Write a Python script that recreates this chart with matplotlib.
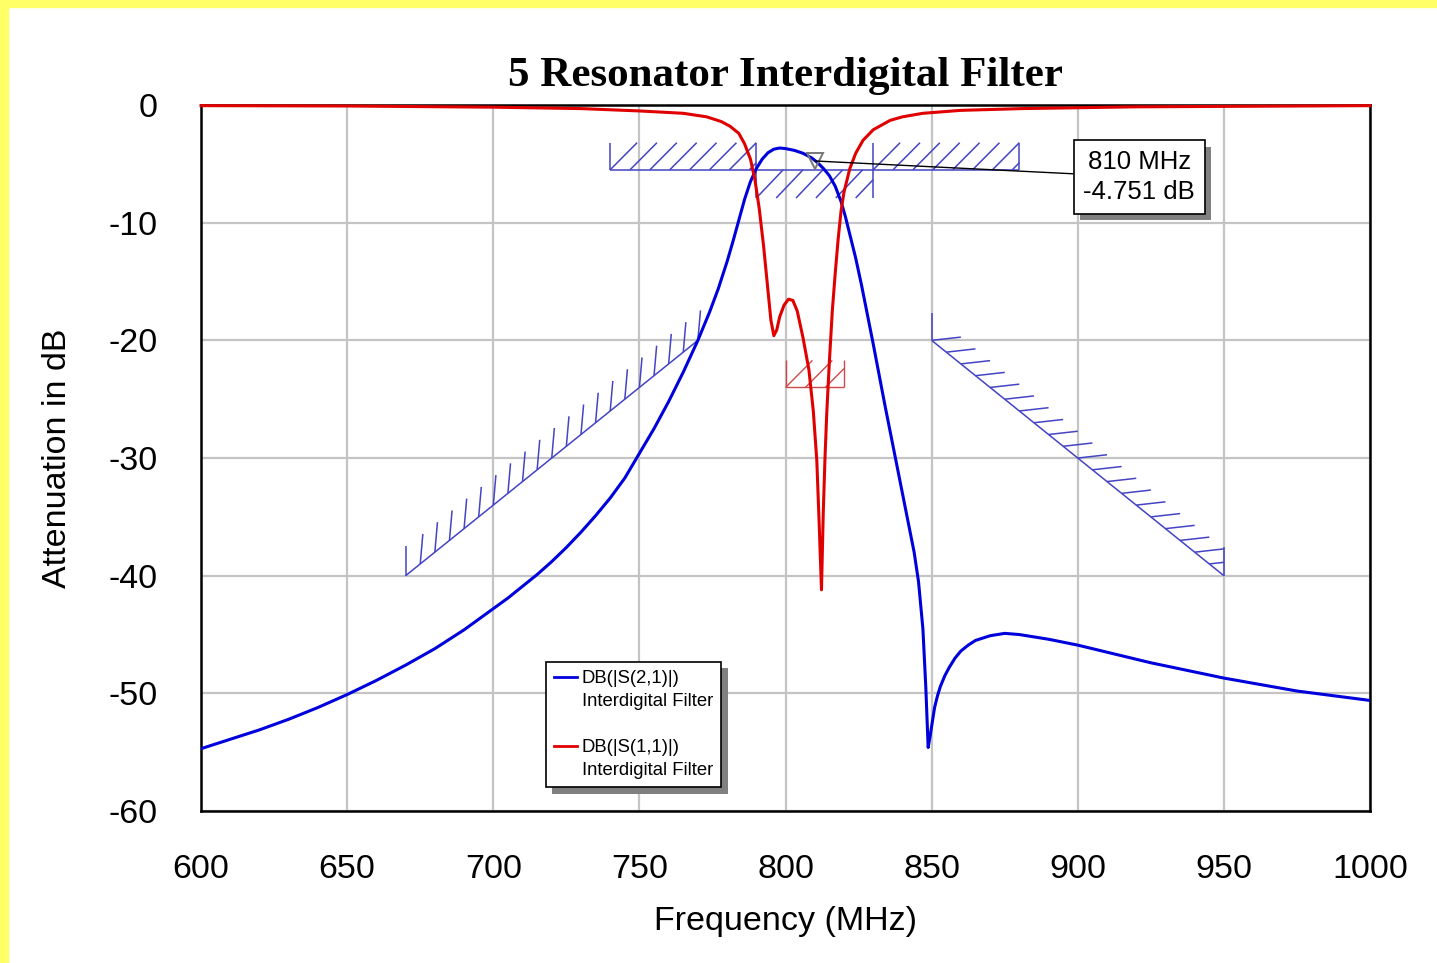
import matplotlib
matplotlib.use("Agg")
import matplotlib.pyplot as plt
import matplotlib.patheffects as pe
from matplotlib.collections import LineCollection
from matplotlib.lines import Line2D
from matplotlib.patches import Rectangle
import numpy as np

plt.rcParams['font.family'] = ['Liberation Sans', 'DejaVu Sans']
plt.rcParams['axes.unicode_minus'] = False

# S21 (transmission)
s21_freq = [600, 610, 620, 630, 640, 650, 660, 670, 680, 690, 700, 705, 710, 715, 720,
            725, 730, 735, 740, 745, 750, 755, 760, 765, 770, 774, 777, 780, 782, 784,
            786, 788, 790, 792, 794, 796, 798, 800, 803, 806, 809, 811, 813, 815, 817,
            819, 820.5, 822, 824, 826, 828, 830, 832, 834, 836, 838, 840, 842, 844,
            845.5, 847, 848, 848.8, 849.5, 850.3, 851, 852, 853, 854.5, 856, 858, 860,
            862.5, 865, 870, 875, 880, 890, 900, 925, 950, 975, 1000]
s21_db = [-54.7, -53.9, -53.1, -52.2, -51.2, -50.1, -48.9, -47.6, -46.2, -44.6, -42.8,
          -41.9, -40.9, -39.9, -38.8, -37.6, -36.3, -34.9, -33.4, -31.7, -29.6, -27.5,
          -25.2, -22.7, -20.0, -17.6, -15.6, -13.3, -11.6, -9.8, -8.0, -6.5, -5.4,
          -4.6, -4.05, -3.75, -3.65, -3.7, -3.85, -4.1, -4.5, -4.9, -5.4, -6.0, -6.9,
          -8.2, -9.5, -11.0, -13.0, -15.3, -17.8, -20.3, -22.9, -25.5, -28.0, -30.5,
          -33.0, -35.5, -38.0, -40.5, -44.5, -49.5, -54.6, -53.6, -52.3, -51.2, -50.2,
          -49.4, -48.5, -47.8, -47.0, -46.4, -45.9, -45.5, -45.1, -44.9, -45.0, -45.4,
          -45.9, -47.4, -48.7, -49.8, -50.6]

# S11 (return loss)
s11_freq = [600, 650, 700, 730, 750, 765, 773, 778, 781, 784, 786, 788, 789.5, 791,
            792.5, 794, 795, 796, 797, 798, 799.5, 801, 802.5, 804, 806, 808, 809.5,
            810.7, 811.5, 812.3, 812.9, 813.5, 814.1, 815, 816, 817, 818, 819, 820, 822,
            824, 826.5, 830, 835.8, 840, 847, 860, 881, 920, 1000]
s11_db = [-0.05, -0.08, -0.18, -0.3, -0.5, -0.7, -1.0, -1.4, -1.8, -2.4, -3.3, -4.6,
          -6.3, -8.8, -12.0, -15.8, -18.3, -19.6, -19.1, -18.0, -17.0, -16.5, -16.6,
          -17.5, -19.8, -22.5, -26.0, -30.2, -35.5, -41.2, -34.7, -30.0, -26.2, -21.8,
          -17.5, -14.3, -11.4, -9.0, -7.4, -5.4, -4.1, -3.0, -2.1, -1.3, -1.0, -0.7,
          -0.45, -0.3, -0.15, -0.05]

# optimisation goals
pass_goal_freq = [740, 790, 830, 880]
pass_goal_db = -5.5
stop_lo_freq = [670, 770]
stop_lo_db = [-40, -20]
stop_hi_freq = [850, 950]
stop_hi_db = [-20, -40]
s11_goal_freq = [800, 820]
s11_goal_db = -24

marker_freq = 810
marker_db = -4.751

x_ticks = [600, 650, 700, 750, 800, 850, 900, 950, 1000]
y_ticks = [0, -10, -20, -30, -40, -50, -60]

blue = '#0000dd'
red = '#e00000'
goal_blue = '#4444c4'
goal_red = '#d04848'


def diag_hatch(f0, f1, ybase, ytop, step=6.8, run=9.2):
    segs = []
    for f in np.arange(f0, f1 - 0.5, step):
        fe, ye = f + run, ytop
        if fe > f1:
            frac = (f1 - f) / run
            fe, ye = f1, ybase + (ytop - ybase) * frac
        segs.append([(f, ybase), (fe, ye)])
    return segs


def tick_hatch(f0, f1, d0, d1, start, stop, dx, dy, step=5, fmax=None):
    segs = []
    for f in np.arange(start, stop + 0.01, step):
        y = d0 + (d1 - d0) * (f - f0) / (f1 - f0)
        ex, ey = f + dx, y + dy
        if fmax is not None and ex > fmax:
            ey = y + dy * (fmax - f) / dx
            ex = fmax
        segs.append([(f, y), (ex, ey)])
    return segs


fig = plt.figure(figsize=(14.37, 9.63), dpi=100)
ax = fig.add_axes([0.1399, 0.1578, 0.8135, 0.7331])

ax.plot(s21_freq, s21_db, color=blue, lw=2.2, zorder=3)
ax.plot(s11_freq, s11_db, color=red, lw=2.2, zorder=3.2, clip_on=False)

# goal masks
segs = []
a, b, c, d = pass_goal_freq
segs += [[(a, pass_goal_db), (d, pass_goal_db)]]
segs += [[(a, -3.2), (a, pass_goal_db)], [(d, -3.2), (d, pass_goal_db)],
         [(b, -3.2), (b, -7.9)], [(c, -3.2), (c, -7.9)]]
segs += diag_hatch(a, b, pass_goal_db, -3.2)
segs += diag_hatch(b, c, -7.9, pass_goal_db)
segs += diag_hatch(c, d, pass_goal_db, -3.2)
segs += [[(stop_lo_freq[0], stop_lo_db[0]), (stop_lo_freq[1], stop_lo_db[1])],
         [(stop_lo_freq[0], stop_lo_db[0]), (stop_lo_freq[0], stop_lo_db[0] + 2.5)]]
segs += tick_hatch(stop_lo_freq[0], stop_lo_freq[1], stop_lo_db[0], stop_lo_db[1],
                   675, 770, 0.9, 2.55)
segs += [[(stop_hi_freq[0], stop_hi_db[0]), (stop_hi_freq[1], stop_hi_db[1])],
         [(stop_hi_freq[0], stop_hi_db[0]), (stop_hi_freq[0], stop_hi_db[0] + 2.3)],
         [(stop_hi_freq[1], stop_hi_db[1]), (stop_hi_freq[1], stop_hi_db[1] + 2.4)]]
segs += tick_hatch(stop_hi_freq[0], stop_hi_freq[1], stop_hi_db[0], stop_hi_db[1],
                   850, 947, 10, 0.28, fmax=stop_hi_freq[1])
ax.add_collection(LineCollection(segs, colors=goal_blue, linewidths=1.1, zorder=2.6))

rsegs = [[(s11_goal_freq[0], s11_goal_db), (s11_goal_freq[1], s11_goal_db)],
         [(s11_goal_freq[0], s11_goal_db), (s11_goal_freq[0], s11_goal_db + 2.3)],
         [(s11_goal_freq[1], s11_goal_db), (s11_goal_freq[1], s11_goal_db + 2.3)]]
rsegs += diag_hatch(s11_goal_freq[0], s11_goal_freq[1], s11_goal_db, s11_goal_db + 2.3)
ax.add_collection(LineCollection(rsegs, colors=goal_red, linewidths=1.0, zorder=2.6))

# marker + readout
ax.plot([marker_freq], [marker_db], marker='v', ms=12, mfc='none', mec='#777777',
        mew=1.4, zorder=4)
t = ax.annotate(f'{marker_freq} MHz\n{marker_db} dB', xy=(marker_freq, marker_db),
                xytext=(921, -6.12), ha='center', va='center', fontsize=18.5,
                linespacing=1.3, zorder=5,
                bbox=dict(boxstyle='square,pad=0.38', fc='white', ec='black', lw=1.2),
                arrowprops=dict(arrowstyle='-', color='black', lw=1.0,
                                shrinkA=0, shrinkB=0))
t.get_bbox_patch().set_path_effects([
    pe.withSimplePatchShadow(offset=(4.5, -4.5), shadow_rgbFace='#808080', alpha=1.0)])

ax.set_xlim(600, 1000)
ax.set_ylim(-60, 0)
ax.set_xticks(x_ticks)
ax.set_yticks(y_ticks)
ax.grid(True, color='#c4c4c4', lw=1.6)
ax.set_axisbelow(True)
ax.tick_params(axis='both', length=0, labelsize=24.5)
ax.tick_params(axis='x', pad=31)
ax.tick_params(axis='y', pad=31)
for sp in ax.spines.values():
    sp.set_linewidth(1.8)
    sp.set_color('black')

ax.set_title('5 Resonator Interdigital Filter', fontsize=31, fontweight='bold',
             family=['Liberation Serif', 'DejaVu Serif'], pad=14)
ax.set_xlabel('Frequency (MHz)', fontsize=24.5, labelpad=15)
ax.set_ylabel('Attenuation in dB', fontsize=24.5, labelpad=26)

# legend
blank = Line2D([], [], linestyle='none')
handles = [Line2D([], [], color=blue, lw=2), blank, blank,
           Line2D([], [], color=red, lw=2), blank]
labels = ['DB(|S(2,1)|)', 'Interdigital Filter', ' ', 'DB(|S(1,1)|)',
          'Interdigital Filter']
leg = ax.legend(handles, labels, loc='upper left', bbox_to_anchor=(0.295, 0.211),
                borderaxespad=0, fontsize=13.3, handlelength=1.25, handletextpad=0.25,
                labelspacing=0.32, borderpad=0.45, fancybox=False, framealpha=1,
                edgecolor='black')
leg.get_frame().set_linewidth(1.2)
leg.get_frame().set_path_effects([
    pe.withSimplePatchShadow(offset=(4.5, -4.5), shadow_rgbFace='#808080', alpha=1.0)])
leg.set_zorder(6)

# yellow page border (top and left)
fig.patches.append(Rectangle((0, 1 - 7 / 963), 1, 7 / 963, transform=fig.transFigure,
                             color='#ffff66', zorder=0))
fig.patches.append(Rectangle((0, 0), 8 / 1437, 1, transform=fig.transFigure,
                             color='#ffff66', zorder=0))

fig.savefig('out.png', dpi=100, facecolor='white')
